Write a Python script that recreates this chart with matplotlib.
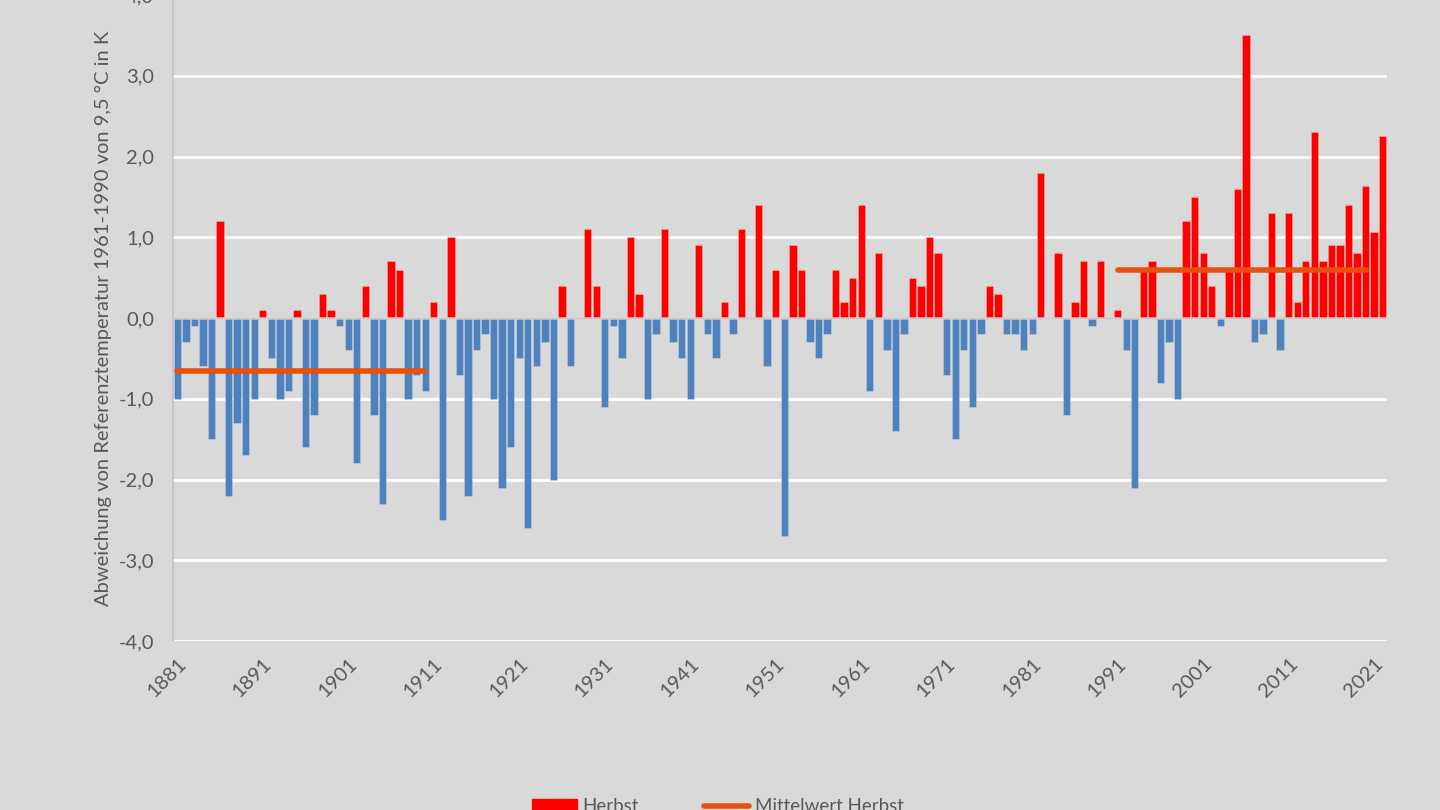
import matplotlib
matplotlib.use("Agg")
import matplotlib.pyplot as plt
from matplotlib.patches import Patch
from matplotlib.lines import Line2D
import numpy as np

# Herbst-Abweichungen 1881-2022 (K, gegen 1961-1990)
years = np.arange(1881, 2023)
anomalies = [
    -1.0, -0.3, -0.1, -0.6, -1.5, 1.2, -2.2, -1.3, -1.7, -1.0,    # 1881-1890
    0.1, -0.5, -1.0, -0.9, 0.1, -1.6, -1.2, 0.3, 0.1, -0.1,       # 1891-1900
    -0.4, -1.8, 0.4, -1.2, -2.3, 0.7, 0.6, -1.0, -0.7, -0.9,      # 1901-1910
    0.2, -2.5, 1.0, -0.7, -2.2, -0.4, -0.2, -1.0, -2.1, -1.6,     # 1911-1920
    -0.5, -2.6, -0.6, -0.3, -2.0, 0.4, -0.6, 0.0, 1.1, 0.4,       # 1921-1930
    -1.1, -0.1, -0.5, 1.0, 0.3, -1.0, -0.2, 1.1, -0.3, -0.5,      # 1931-1940
    -1.0, 0.9, -0.2, -0.5, 0.2, -0.2, 1.1, 0.0, 1.4, -0.6,        # 1941-1950
    0.6, -2.7, 0.9, 0.6, -0.3, -0.5, -0.2, 0.6, 0.2, 0.5,         # 1951-1960
    1.4, -0.9, 0.8, -0.4, -1.4, -0.2, 0.5, 0.4, 1.0, 0.8,         # 1961-1970
    -0.7, -1.5, -0.4, -1.1, -0.2, 0.4, 0.3, -0.2, -0.2, -0.4,     # 1971-1980
    -0.2, 1.8, 0.0, 0.8, -1.2, 0.2, 0.7, -0.1, 0.7, 0.0,          # 1981-1990
    0.1, -0.4, -2.1, 0.6, 0.7, -0.8, -0.3, -1.0, 1.2, 1.5,        # 1991-2000
    0.8, 0.4, -0.1, 0.6, 1.6, 3.5, -0.3, -0.2, 1.3, -0.4,         # 2001-2010
    1.3, 0.2, 0.7, 2.3, 0.7, 0.9, 0.9, 1.4, 0.8, 1.64,            # 2011-2020
    1.07, 2.25,                                                   # 2021-2022
]

# Mittelwerte der Klimaperioden
mean_periods = [(1881, 1910), (1991, 2020)]
mean_values = [-0.66, 0.59]

tick_years = [1881, 1891, 1901, 1911, 1921, 1931, 1941, 1951, 1961, 1971,
              1981, 1991, 2001, 2011, 2021]
y_ticks = [-4, -3, -2, -1, 0, 1, 2, 3, 4]

bg = "#D9D9D9"
text_col = "#595959"
plt.rcParams["font.family"] = ["Lato", "DejaVu Sans"]

fig = plt.figure(figsize=(14.4, 8.1), dpi=100, facecolor=bg)
ax = fig.add_axes([173 / 1440, 169 / 810, 1214 / 1440, 646 / 810])
ax.set_facecolor(bg)

vals = np.array(anomalies)
colors = np.where(vals >= 0, "#FF0000", "#4F81BD")
ax.bar(years, vals, width=0.86, color=colors,
       edgecolor=(1, 1, 1, 0.25), linewidth=0.6, zorder=2)

for (y0, y1), m in zip(mean_periods, mean_values):
    ax.plot([y0, y1], [m, m], color="#E9500E", linewidth=4,
            solid_capstyle="round", zorder=4)

ax.axhline(0, color="#CACACA", linewidth=1.8, zorder=3)

ax.set_xlim(1880.5, 2022.5)
ax.set_ylim(-4, 4)
ax.set_yticks(y_ticks)
ax.set_yticklabels([f"{v:.1f}".replace(".", ",") for v in y_ticks])
ax.set_xticks(tick_years)
ax.set_xticklabels([str(y) for y in tick_years], rotation=45,
                   ha="right", va="top", rotation_mode="anchor")

ax.grid(axis="y", color="white", linewidth=2, zorder=0)
ax.set_axisbelow(True)
for s in ["top", "right", "bottom"]:
    ax.spines[s].set_visible(False)
ax.spines["left"].set_color("#C4C4C4")
ax.spines["left"].set_linewidth(1.2)

ax.tick_params(axis="both", length=0, colors=text_col, labelsize=14.5)
ax.tick_params(axis="y", pad=13.5)
ax.tick_params(axis="x", pad=10)

ax.set_ylabel("Abweichung von Referenztemperatur 1961-1990 von 9,5 °C in K",
              color=text_col, fontsize=14.5)
ax.yaxis.set_label_coords(-0.050, 0.5)

handles = [Patch(facecolor="#FF0000", edgecolor="#FF0000"),
           Line2D([0], [0], color="#E9500E", linewidth=4, solid_capstyle="round")]
leg = fig.legend(handles, ["Herbst", "Mittelwert Herbst"], loc="center",
                 bbox_to_anchor=(0.4985, 0.004), ncol=2, frameon=False,
                 fontsize=13.5, handlelength=2.4, handletextpad=0.3,
                 columnspacing=3.5)
for t in leg.get_texts():
    t.set_color(text_col)

fig.savefig("out.png", dpi=100, facecolor=bg)
